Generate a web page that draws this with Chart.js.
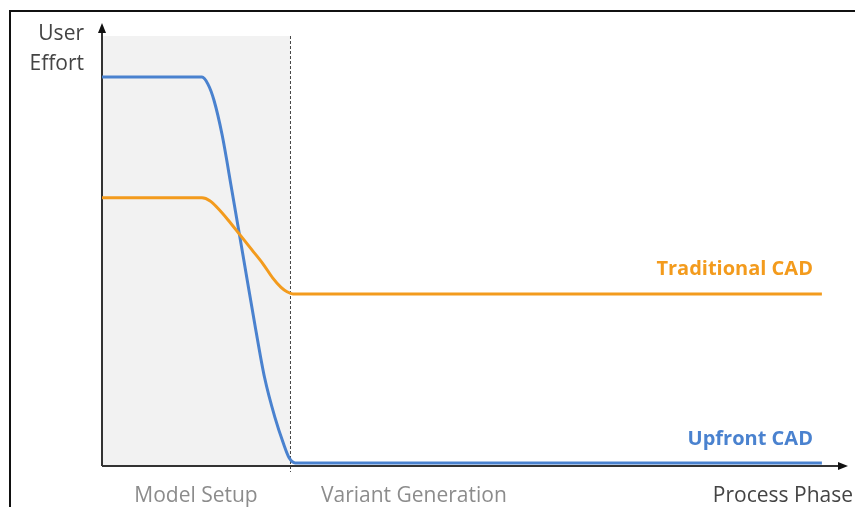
<!DOCTYPE html>
<html>
<head>
<meta charset="utf-8">
<script src="https://cdn.jsdelivr.net/npm/chart.js@4.4.1/dist/chart.umd.min.js"></script>
<style>
  html, body { margin: 0; padding: 0; background: #fff; }
  #wrap { position: relative; width: 855px; height: 507px; overflow: hidden; }
  #frame { position: absolute; left: 9px; top: 10px; width: 900px; height: 600px;
           border-left: 2px solid #111; border-top: 2px solid #111; }
  canvas { position: absolute; left: 0; top: 0; }
</style>
</head>
<body>
<div id="wrap">
  <div id="frame"></div>
  <canvas id="myChart" width="855" height="507"></canvas>
</div>
<script>
// values (x: process progress 0..100, y: effort 0..100)
const upfrontX = [0, 13.4, 14.2, 15.0, 16.1, 17.4, 18.9, 20.5, 21.8, 23.2, 24.3, 25.1, 25.9, 96.5];
const upfrontY = [88.2, 88.2, 86.6, 83.0, 75.1, 62.6, 47.8, 32.0, 20.0, 10.9, 5.2, 1.8, 0.7, 0.7];

const traditionalX = [0, 13.4, 14.5, 15.5, 16.9, 18.5, 20.1, 21.6, 22.9, 24.0, 24.8, 25.6, 96.5];
const traditionalY = [60.8, 60.8, 60.1, 58.5, 55.8, 52.4, 49.0, 45.8, 42.6, 40.5, 39.5, 39.0, 39.0];

const seriesNames = ['Upfront CAD', 'Traditional CAD'];
const phaseLabels = ['Model Setup', 'Variant Generation'];
const yTitle = ['User', 'Effort'];
const xTitle = 'Process Phase';

const phaseBoundary = 25.2;  // end of model setup
const shadeTop = 97.5;

const BLUE = '#4a82cf';
const ORANGE = '#f39b1d';
const FONT = '"Open Sans", Lato, sans-serif';

function toPoints(xs, ys) {
  return xs.map((x, i) => ({ x: x, y: ys[i] }));
}

const decor = {
  id: 'decor',
  beforeDatasetsDraw(chart) {
    const { ctx, scales: { x, y } } = chart;
    const x0 = x.getPixelForValue(0);
    const y0 = y.getPixelForValue(0);
    const xb = x.getPixelForValue(phaseBoundary);
    const yTop = y.getPixelForValue(shadeTop);
    const xEnd = x.getPixelForValue(100);
    const yEnd = y.getPixelForValue(100);

    ctx.save();
    // shaded model setup phase
    ctx.fillStyle = '#f2f2f2';
    ctx.fillRect(x0, yTop, xb - x0, y0 - yTop);

    // phase divider
    ctx.strokeStyle = '#444';
    ctx.lineWidth = 1;
    ctx.setLineDash([3, 2]);
    ctx.beginPath();
    ctx.moveTo(xb + 0.5, yTop);
    ctx.lineTo(xb + 0.5, y0 + 6);
    ctx.stroke();
    ctx.setLineDash([]);

    // axes with arrows
    ctx.strokeStyle = '#333';
    ctx.fillStyle = '#111';
    ctx.lineWidth = 2;
    ctx.beginPath();
    ctx.moveTo(x0, y0);
    ctx.lineTo(xEnd - 6, y0);
    ctx.moveTo(x0, y0);
    ctx.lineTo(x0, yEnd + 4);
    ctx.stroke();

    ctx.beginPath();
    ctx.moveTo(xEnd, y0);
    ctx.lineTo(xEnd - 10, y0 - 4);
    ctx.lineTo(xEnd - 10, y0 + 4);
    ctx.closePath();
    ctx.fill();

    ctx.beginPath();
    ctx.moveTo(x0, yEnd - 2);
    ctx.lineTo(x0 - 4, yEnd + 8);
    ctx.lineTo(x0 + 4, yEnd + 8);
    ctx.closePath();
    ctx.fill();
    ctx.restore();
  },
  afterDraw(chart) {
    const { ctx, scales: { x, y } } = chart;
    const x0 = x.getPixelForValue(0);
    const y0 = y.getPixelForValue(0);
    const xb = x.getPixelForValue(phaseBoundary);
    const xLab = x.getPixelForValue(95.3);

    ctx.save();
    ctx.textBaseline = 'alphabetic';

    // axis titles
    ctx.font = '21px ' + FONT;
    ctx.fillStyle = '#444';
    ctx.textAlign = 'right';
    ctx.fillText(yTitle[0], x0 - 18, 40);
    ctx.fillText(yTitle[1], x0 - 18, 70);
    ctx.fillText(xTitle, 853, y0 + 36);

    // phase names
    ctx.fillStyle = '#8c8c8c';
    ctx.textAlign = 'center';
    ctx.fillText(phaseLabels[0], (x0 + xb) / 2, y0 + 36);
    ctx.textAlign = 'left';
    ctx.fillText(phaseLabels[1], xb + 31, y0 + 36);

    // series names
    ctx.font = 'bold 20px ' + FONT;
    ctx.textAlign = 'right';
    ctx.fillStyle = ORANGE;
    ctx.fillText(seriesNames[1], xLab, y.getPixelForValue(traditionalY[traditionalY.length - 1]) - 19);
    ctx.fillStyle = BLUE;
    ctx.fillText(seriesNames[0], xLab, y.getPixelForValue(upfrontY[upfrontY.length - 1]) - 18);
    ctx.restore();
  }
};

const chartCanvas = document.getElementById('myChart').getContext('2d');

new Chart(chartCanvas, {
  type: 'line',
  data: {
    datasets: [
      {
        label: seriesNames[1],
        data: toPoints(traditionalX, traditionalY),
        borderColor: ORANGE,
        borderWidth: 3,
        pointRadius: 0,
        cubicInterpolationMode: 'monotone',
        fill: false
      },
      {
        label: seriesNames[0],
        data: toPoints(upfrontX, upfrontY),
        borderColor: BLUE,
        borderWidth: 3,
        pointRadius: 0,
        cubicInterpolationMode: 'monotone',
        fill: false
      }
    ]
  },
  options: {
    responsive: false,
    animation: false,
    layout: { padding: { left: 102, top: 25, right: 7, bottom: 41 } },
    plugins: { legend: { display: false }, tooltip: { enabled: false } },
    scales: {
      x: { type: 'linear', min: 0, max: 100, display: false },
      y: { type: 'linear', min: 0, max: 100, display: false }
    }
  },
  plugins: [decor]
});
</script>
</body>
</html>
